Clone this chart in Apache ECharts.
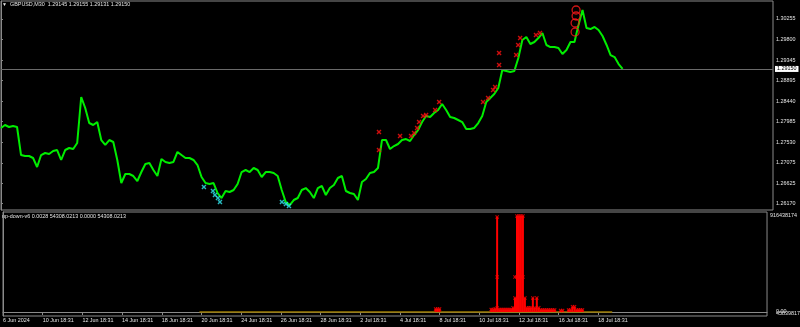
<!DOCTYPE html>
<html><head><meta charset="utf-8">
<script src="https://cdn.jsdelivr.net/npm/echarts@6/dist/echarts.min.js"></script>
<style>html,body{margin:0;background:#000}#c{width:800px;height:327px}</style>
</head><body><div id="c"></div>
<script>
// time axis: trading days from 6 Jun 2024
const timeTicks = [0,2,4,6,8,10,12,14,16,18,20,22,24,26,28,30];
const timeLabels = ['6 Jun 2024','10 Jun 18:31','12 Jun 18:31','14 Jun 18:31','18 Jun 18:31','20 Jun 18:31','24 Jun 18:31','26 Jun 18:31','28 Jun 18:31','2 Jul 18:31','4 Jul 18:31','8 Jul 18:31','10 Jul 18:31','12 Jul 18:31','16 Jul 18:31','18 Jul 18:31'];
const priceTicks = [1.26170,1.26625,1.27075,1.27530,1.27985,1.28440,1.28895,1.29345,1.29800,1.30255];
const priceTickLabels = ['1.26170','1.26625','1.27075','1.27530','1.27985','1.28440','1.28895','1.29345','1.29800','1.30255'];
const lastPrice = 1.29150;
const STEP = 0.2; // days between close samples
const closes = [
1.27844,1.27910,1.27866,1.27888,1.27866,1.27246,1.27224,1.27224,1.27180,1.26981,
1.27246,1.27291,1.27269,1.27335,1.27357,1.27136,1.27357,1.27401,1.27379,1.27512,
1.28529,1.28286,1.27954,1.27910,1.27976,1.27578,1.27468,1.27578,1.27534,1.27136,
1.26627,1.26826,1.26826,1.26782,1.26671,1.26870,1.27047,1.27069,1.26915,1.26782,
1.27158,1.27092,1.27069,1.27092,1.27313,1.27246,1.27180,1.27180,1.27136,1.27025,
1.26760,1.26627,1.26605,1.26627,1.26406,1.26295,1.26450,1.26428,1.26472,1.26605,
1.26870,1.26915,1.26870,1.26959,1.26915,1.26760,1.26870,1.26870,1.26848,1.26782,
1.26472,1.26207,1.26140,1.26251,1.26295,1.26472,1.26516,1.26428,1.26295,1.26516,
1.26561,1.26362,1.26516,1.26583,1.26738,1.26782,1.26450,1.26406,1.26384,1.26251,
1.26649,1.26716,1.26848,1.26870,1.26959,1.27578,1.27578,1.27379,1.27445,1.27490,
1.27578,1.27600,1.27556,1.27689,1.27799,1.27976,1.28109,1.28087,1.28175,1.28242,
1.28375,1.28242,1.28087,1.28065,1.28021,1.27976,1.27822,1.27822,1.27844,1.27954,
1.28109,1.28419,1.28507,1.28596,1.28728,1.29127,1.29105,1.29082,1.29105,1.29392,
1.29790,1.29857,1.29702,1.29746,1.29834,1.29945,1.29680,1.29635,1.29635,1.29613,
1.29480,1.29569,1.29746,1.29746,1.30122,1.30454,1.30056,1.30033,1.30078,1.30011,
1.29879,1.29680,1.29458,1.29413,1.29259,1.29150];
const sellTimes = [18.85,18.85,19.90,20.45,20.60,20.75,20.85,21.05,21.20,21.65,21.85,24.04,24.29,24.54,24.64,24.84,24.84,25.69,25.79,25.89,26.68,26.88];
const sellPrices = [1.27755,1.27357,1.27667,1.27667,1.27733,1.27844,1.27976,1.28109,1.28131,1.28242,1.28419,1.28419,1.28507,1.28684,1.28751,1.29237,1.29503,1.29458,1.29680,1.29834,1.29901,1.29945];
const buyTimes = [10.12,10.57,10.67,10.82,10.92,14.01,14.21,14.36];
const buyPrices = [1.26539,1.26450,1.26362,1.26295,1.26207,1.26207,1.26163,1.26118];
const circleTimes = [28.68,28.68,28.63,28.63];
const circlePrices = [1.30454,1.30321,1.30166,1.29967];
// indicator window
const IND_START = 21.7, IND_STEP = 0.1;
const indValues = [
0,28e6,28e6,28e6,0,0,0,0,0,0,0,0,0,0,0,0,0,0,0,0,0,0,0,0,0,0,0,0,0,
25e6,25e6,30e6,907e6,25e6,25e6,25e6,25e6,25e6,25e6,25e6,40e6,134e6,
916438174,916438174,916438174,916438174,134e6,40e6,40e6,40e6,134e6,40e6,134e6,40e6,
20e6,20e6,20e6,20e6,20e6,20e6,20e6,20e6,0,0,15e6,15e6,0,0,20e6,20e6,50e6,50e6,20e6,20e6,20e6,20e6,0];
const extraMarkTimes = [24.9,24.9,25.8,25.9,26.0,26.1,26.2];
const extraMarkValues = [334e6,38e6,334e6,334e6,334e6,334e6,334e6];
const levelTimes = [9.9,30.7];
const levelValues = [0,0];

const FONT = 'Liberation Sans';
const FS = 5.4;
const TXT = '#e4e4e4';
const GRAY = '#8a8a8a';
const XPATH = 'path://M0,2L2,0L5,3L8,0L10,2L7,5L10,8L8,10L5,7L2,10L0,8L3,5Z';
const pair = (ts, vs) => ts.map((t, i) => [t, vs[i]]);

const chart = echarts.init(document.getElementById('c'), null, {renderer: 'canvas'});
chart.setOption({
  backgroundColor: '#000',
  animation: false,
  textStyle: {fontFamily: FONT},
  grid: [
    {left: 1, top: 1, right: 27, height: 209, show: true, borderColor: GRAY, borderWidth: 1},
    {left: 1, top: 212, right: 27, height: 104, show: true, borderColor: GRAY, borderWidth: 1}
  ],
  xAxis: [
    {type: 'value', gridIndex: 0, min: 0, max: 38.5, axisLabel: {show: false}, axisTick: {show: false}, axisLine: {show: false}, splitLine: {show: false}},
    {type: 'value', gridIndex: 1, min: 0, max: 38.5, splitLine: {show: false},
     axisLine: {show: true, lineStyle: {color: GRAY, width: 1}},
     axisTick: {show: true, customValues: timeTicks, length: 3, lineStyle: {color: GRAY}},
     axisLabel: {show: true, customValues: timeTicks, align: 'left', margin: 2, color: TXT, fontSize: FS, fontFamily: FONT,
       formatter: v => timeLabels[timeTicks.indexOf(v)] || ''}}
  ],
  yAxis: [
    {type: 'value', gridIndex: 0, position: 'right', min: 1.26030, max: 1.30653, splitLine: {show: false},
     axisLine: {show: true, lineStyle: {color: GRAY}},
     axisTick: {show: true, customValues: priceTicks, length: 2, lineStyle: {color: GRAY}},
     axisLabel: {customValues: priceTicks, margin: 3, color: TXT, fontSize: FS, fontFamily: FONT,
       formatter: v => priceTickLabels[priceTicks.indexOf(v)] || ''}},
    {type: 'value', gridIndex: 1, position: 'right', min: -38.18e6, max: 954.62e6, splitLine: {show: false},
     axisLine: {show: true, lineStyle: {color: GRAY}},
     axisTick: {show: false},
     axisLabel: {customValues: [916438174], margin: 3, color: TXT, fontSize: FS, fontFamily: FONT, formatter: v => String(v)}}
  ],
  series: [
    {type: 'line', xAxisIndex: 0, yAxisIndex: 0, data: closes.map((v, i) => [i * STEP, v]), showSymbol: false,
     lineStyle: {color: '#00ee00', width: 2}, z: 3,
     markLine: {silent: true, symbol: 'none', precision: 5, lineStyle: {color: '#6a6a6a', width: 1, type: 'solid'},
       label: {show: true, position: 'end', distance: 2, formatter: lastPrice.toFixed(5), backgroundColor: '#ffffff', color: '#000',
         fontSize: FS, fontFamily: FONT, padding: [1, 2, 0, 2]},
       data: [{yAxis: lastPrice}]}},
    {type: 'scatter', xAxisIndex: 0, yAxisIndex: 0, data: pair(sellTimes, sellPrices), symbol: XPATH, symbolSize: 5, itemStyle: {color: '#ff1010'}, z: 4},
    {type: 'scatter', xAxisIndex: 0, yAxisIndex: 0, data: pair(buyTimes, buyPrices), symbol: XPATH, symbolSize: 5, itemStyle: {color: '#30e8f0'}, z: 4},
    {type: 'scatter', xAxisIndex: 0, yAxisIndex: 0, data: pair(circleTimes, circlePrices), symbol: 'circle', symbolSize: 8,
     itemStyle: {color: 'rgba(0,0,0,0)', borderColor: '#ff1a1a', borderWidth: 1.3}, z: 5},
    {type: 'line', xAxisIndex: 1, yAxisIndex: 1, data: pair(levelTimes, levelValues), showSymbol: false, lineStyle: {color: '#9a7a00', width: 1.6}, z: 2},
    {type: 'bar', xAxisIndex: 1, yAxisIndex: 1, barWidth: 2, data: indValues.map((v, i) => [IND_START + i * IND_STEP, v]).filter(d => d[1] > 0),
     itemStyle: {color: '#ff0000'}, z: 3},
    {type: 'scatter', xAxisIndex: 1, yAxisIndex: 1, symbol: XPATH, symbolSize: 4, itemStyle: {color: '#ff0000'}, z: 4,
     data: indValues.map((v, i) => [IND_START + i * IND_STEP, v]).filter(d => d[1] > 0).concat(pair(extraMarkTimes, extraMarkValues))}
  ],
  graphic: [
    {type: 'text', left: 2, top: 2, style: {text: '▼', fill: TXT, font: '5px ' + FONT}},
    {type: 'text', left: 10, top: 2, style: {text: 'GBPUSD,M30  1.29145 1.29155 1.29131 1.29150', fill: TXT, font: FS + 'px ' + FONT}},
    {type: 'text', left: 2, top: 214, style: {text: 'up-down-v6 0.0028 54308.0213 0.0000 54308.0213', fill: TXT, font: FS + 'px ' + FONT}},
    {type: 'text', left: 776, top: 309, style: {text: '0.00', fill: TXT, font: FS + 'px ' + FONT}},
    {type: 'text', left: 776, top: 311, style: {text: '458398175', fill: TXT, font: FS + 'px ' + FONT}}
  ]
});
</script></body></html>
